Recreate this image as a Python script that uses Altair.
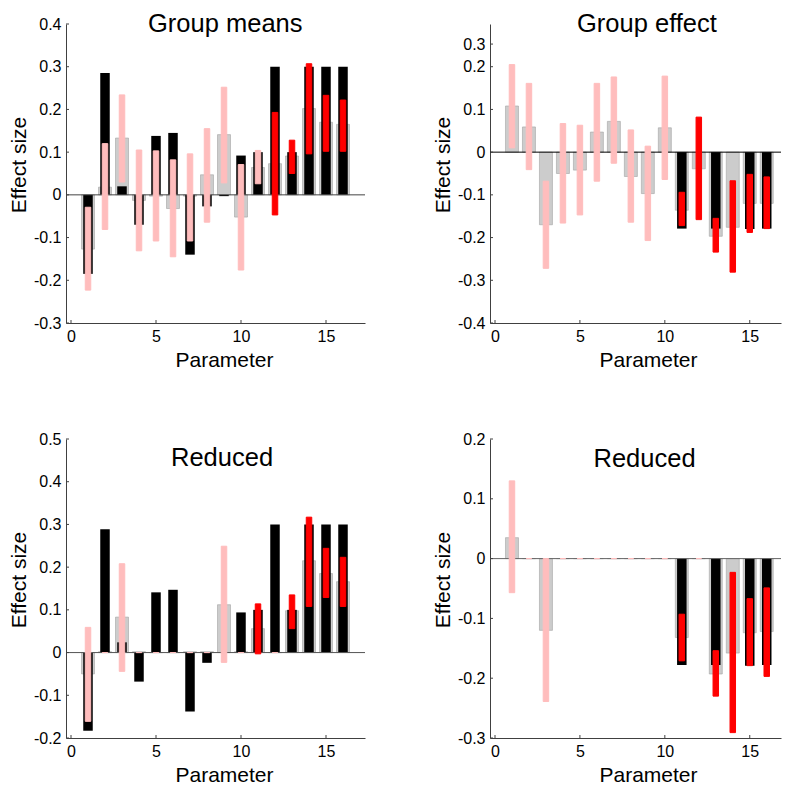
import altair as alt
import pandas as pd

FONT = "Liberation Sans"
PINK = "#ffbdbd"
RED = "#ff0000"
GRAY = "#cccccc"
GRAY_EDGE = "#a3a3a3"
AXIS = "#404040"

params = list(range(1, 17))
x_ticks = [0, 5, 10, 15]

# ---- Panel 1: Group means ----
true1 = [-0.185, 0.285, 0.02, -0.07, 0.138, 0.145, -0.14, -0.027, -0.003, 0.092, 0.1, 0.3, 0.1, 0.3, 0.3, 0.3]
est1 = [-0.127, 0.018, 0.133, -0.013, -0.003, -0.032, -0.003, 0.047, 0.141, -0.052, 0.064, 0.073, 0.091, 0.202, 0.17, 0.165]
lo1 = [-0.223, -0.081, 0.03, -0.131, -0.108, -0.145, -0.108, -0.064, 0.028, -0.176, 0.026, -0.047, 0.05, 0.096, 0.102, 0.102]
hi1 = [-0.029, 0.12, 0.234, 0.105, 0.103, 0.082, 0.096, 0.155, 0.252, 0.071, 0.104, 0.193, 0.128, 0.307, 0.233, 0.222]
sig1 = [0] * 11 + [1] * 5
ydom1 = [-0.3, 0.4]
yticks1 = [-0.3, -0.2, -0.1, 0, 0.1, 0.2, 0.3, 0.4]
ylabels1 = ["-0.3", "-0.2", "-0.1", "0", "0.1", "0.2", "0.3", "0.4"]

# ---- Panel 2: Group effect ----
true2 = [0, 0, 0, 0, 0, 0, 0, 0, 0, 0, -0.179, 0, -0.179, 0, -0.18, -0.179]
est2 = [0.108, 0.059, -0.17, -0.05, -0.042, 0.047, 0.072, -0.057, -0.097, 0.057, -0.136, -0.039, -0.197, -0.176, -0.12, -0.12]
lo2 = [0.01, -0.041, -0.272, -0.166, -0.147, -0.068, -0.026, -0.164, -0.207, -0.064, -0.172, -0.158, -0.234, -0.281, -0.188, -0.179]
hi2 = [0.205, 0.161, -0.068, 0.067, 0.063, 0.161, 0.176, 0.052, 0.014, 0.178, -0.094, 0.082, -0.155, -0.067, -0.052, -0.058]
sig2 = [0] * 10 + [1] * 6
ydom2 = [-0.4, 0.3]
yticks2 = [-0.4, -0.3, -0.2, -0.1, 0, 0.1, 0.2, 0.253]
ylabels2 = ["-0.4", "-0.3", "-0.2", "-0.1", "0", "0.1", "0.2", "0.3"]

# ---- Panel 3: Reduced (means) ----
true3 = [-0.183, 0.289, 0.024, -0.068, 0.141, 0.147, -0.138, -0.024, 0, 0.094, 0.1, 0.3, 0.1, 0.3, 0.3, 0.3]
est3 = [-0.05, 0.002, 0.083, 0.002, 0, 0, 0.002, 0.002, 0.112, 0.002, 0.056, 0, 0.098, 0.215, 0.185, 0.166]
lo3 = [-0.161, 0, -0.044, 0, 0, 0, 0, 0, -0.023, 0, -0.003, 0, 0.056, 0.108, 0.129, 0.108]
hi3 = [0.059, 0, 0.208, 0, 0, 0, 0, 0, 0.249, 0, 0.114, 0, 0.135, 0.317, 0.244, 0.223]
sig3 = [0] * 10 + [1, 0, 1, 1, 1, 1]
ydom3 = [-0.2, 0.5]
yticks3 = [-0.2, -0.1, 0, 0.1, 0.2, 0.3, 0.4, 0.5]
ylabels3 = ["-0.2", "-0.1", "0", "0.1", "0.2", "0.3", "0.4", "0.5"]

# ---- Panel 4: Reduced (effect) ----
true4 = [0, 0, 0, 0, 0, 0, 0, 0, 0, 0, -0.178, 0, -0.178, 0, -0.179, -0.178]
est4 = [0.035, 0, -0.12, 0, 0, 0, 0, 0, 0, 0, -0.132, 0, -0.193, -0.158, -0.124, -0.122]
lo4 = [-0.057, 0, -0.239, 0, 0, 0, 0, 0, 0, 0, -0.171, 0, -0.23, -0.291, -0.179, -0.197]
hi4 = [0.13, 0, 0, 0, 0, 0, 0, 0, 0, 0, -0.093, 0, -0.154, -0.023, -0.067, -0.049]
sig4 = [0] * 10 + [1, 0, 1, 1, 1, 1]
ydom4 = [-0.3, 0.2]
yticks4 = [-0.3, -0.2, -0.1, 0, 0.1, 0.2]
ylabels4 = ["-0.3", "-0.2", "-0.1", "0", "0.1", "0.2"]

H = 299
W_LEFT = 299
XMAX_LEFT = 17
# right column trimmed so the page does not overflow (same px per unit)
W_RIGHT = 291
XMAX_RIGHT = round(17 * W_RIGHT / W_LEFT, 3)


def label_expr(values, labels):
    vals = "[" + ",".join(repr(float(v)) for v in values) + "]"
    labs = "[" + ",".join("'" + s + "'" for s in labels) + "]"
    return f"{labs}[indexof({vals}, datum.value)]"


def panel(title, true, est, lo, hi, sig, ydom, yticks, ylabels, zero_color,
          tdx, toffset, width, xmax):
    df = pd.DataFrame({
        "param": params, "est": est, "true": true, "lo": lo, "hi": hi,
        "sig": ["sig" if s else "ns" for s in sig],
    })
    xs = alt.Scale(domain=[0, xmax], nice=False, zero=False)
    ys = alt.Scale(domain=ydom, nice=False, zero=False)
    xax = alt.Axis(values=x_ticks, title="Parameter", labelPadding=5.5, titlePadding=5,
                   titleX=158, labelExpr="format(datum.value, 'd')")
    yax = alt.Axis(values=yticks, title="Effect size", labelPadding=5, titlePadding=4,
                   titleY=H / 2 - 9, labelExpr=label_expr(yticks, ylabels))

    def X(f):
        return alt.X(f, scale=xs, axis=xax)

    def Y(f):
        return alt.Y(f, scale=ys, axis=yax)

    base = alt.Chart(df)
    gray = base.mark_bar(size=13, color=GRAY, stroke=GRAY_EDGE, strokeWidth=0.6).encode(
        x=X("param:Q"), y=Y("est:Q"), y2=alt.datum(0),
    )
    black = base.mark_bar(size=9.5, color="black").encode(
        x=X("param:Q"), y=Y("true:Q"), y2=alt.datum(0),
    )
    zero = alt.Chart(pd.DataFrame({"z": [0]})).mark_rule(color=zero_color, strokeWidth=1).encode(
        y=Y("z:Q")
    )
    cscale = alt.Scale(domain=["ns", "sig"], range=[PINK, RED])
    err = base.mark_bar(size=5.5, strokeWidth=1).encode(
        x=X("param:Q"), y=Y("lo:Q"), y2="hi:Q",
        color=alt.Color("sig:N", scale=cscale, legend=None),
        stroke=alt.Stroke("sig:N", scale=cscale, legend=None),
    )
    ytk = alt.Chart(pd.DataFrame({"v": yticks})).mark_rule(color=AXIS, strokeWidth=1).encode(
        y=Y("v:Q"), x=alt.value(0), x2=alt.value(3)
    )
    xtk = alt.Chart(pd.DataFrame({"v": x_ticks})).mark_rule(color=AXIS, strokeWidth=1).encode(
        x=X("v:Q"), y=alt.value(H), y2=alt.value(H - 3)
    )
    return alt.layer(gray, black, zero, err, ytk, xtk).properties(
        width=width, height=H,
        title=alt.TitleParams(text=title, fontSize=25.5, font=FONT, fontWeight="normal",
                              anchor="start", frame="group", dx=tdx, offset=toffset,
                              color="black"),
    )


p1 = panel("Group means", true1, est1, lo1, hi1, sig1, ydom1, yticks1, ylabels1,
           "#444444", 82, -21, W_LEFT, XMAX_LEFT)
p2 = panel("Group effect", true2, est2, lo2, hi2, sig2, ydom2, yticks2, ylabels2,
           "#000000", 87, -13, W_RIGHT, XMAX_RIGHT)
p3 = panel("Reduced", true3, est3, lo3, hi3, sig3, ydom3, yticks3, ylabels3,
           "#555555", 105, -40, W_LEFT, XMAX_LEFT)
p4 = panel("Reduced", true4, est4, lo4, hi4, sig4, ydom4, yticks4, ylabels4,
           "#666666", 103.5, -41, W_RIGHT, XMAX_RIGHT)

chart = alt.concat(
    p1, p2, p3, p4, columns=2, spacing={"row": 116, "column": 125}, bounds="flush"
).properties(
    padding={"left": 0, "top": 3, "right": 0, "bottom": 0}
).configure_view(stroke=None).configure_axis(
    grid=False, ticks=False, tickSize=0, domainColor=AXIS, domainWidth=1,
    labelFont=FONT, labelFontSize=16, labelColor="black",
    titleFont=FONT, titleFontSize=21, titleFontWeight="normal", titleColor="black",
)

chart.save("out.html", embed_options={"renderer": "svg", "actions": False})
